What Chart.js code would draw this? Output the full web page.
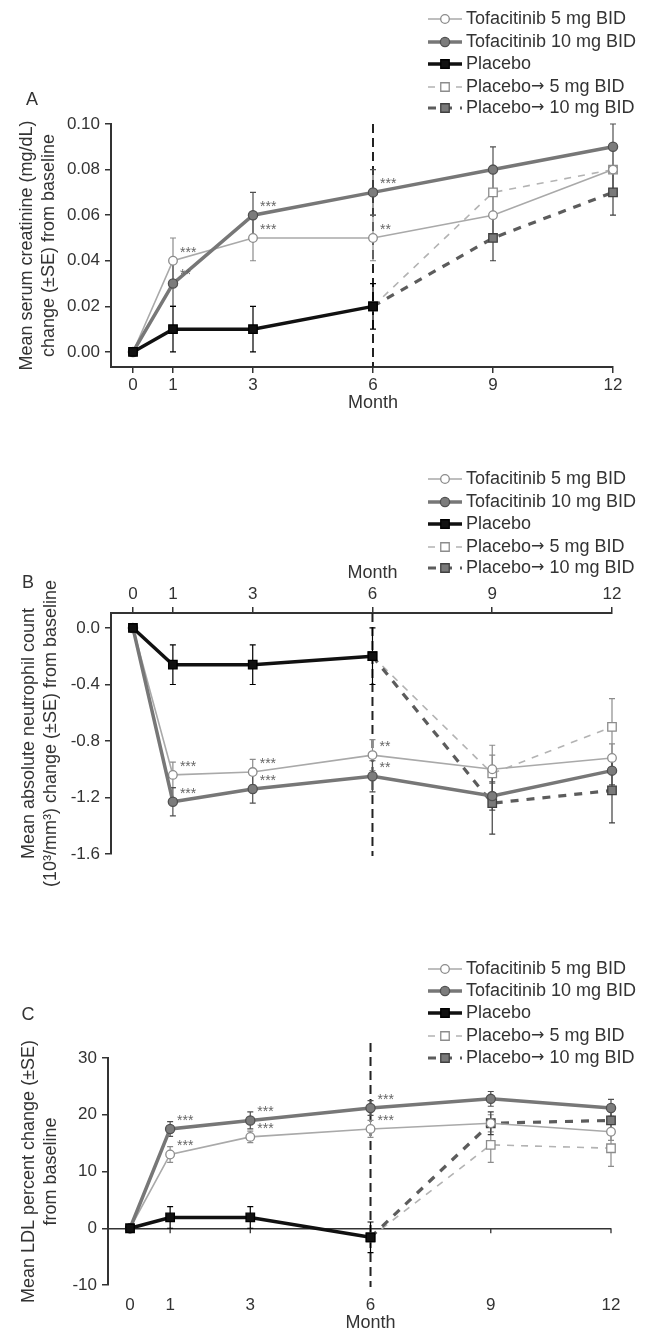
<!DOCTYPE html>
<html>
<head>
<meta charset="utf-8">
<script src="https://cdn.jsdelivr.net/npm/chart.js@4.4.1/dist/chart.umd.min.js"></script>
<style>
body{margin:0;background:#fff;}
canvas{display:block;}
</style>
</head>
<body>
<canvas id="chartA" width="658" height="440"></canvas>
<canvas id="chartB" width="658" height="465"></canvas>
<canvas id="chartC" width="658" height="426"></canvas>
<script>
// ---------- data ----------
const months = [0, 1, 3, 6, 9, 12];
const monthsPlacebo = [0, 1, 3, 6];
const monthsSwitch = [6, 9, 12];

const seriesNames = ["Tofacitinib 5 mg BID", "Tofacitinib 10 mg BID", "Placebo",
                     "Placebo\u2192 5 mg BID", "Placebo\u2192 10 mg BID"];

// A: serum creatinine (mg/dL)
const crTofa5 = [0, 0.04, 0.05, 0.05, 0.06, 0.08];
const crTofa10 = [0, 0.03, 0.06, 0.07, 0.08, 0.09];
const crPlacebo = [0, 0.01, 0.01, 0.02];
const crSwitch5 = [0.02, 0.07, 0.08];
const crSwitch10 = [0.02, 0.05, 0.07];
const crSeTofa5 = [0, 0.01, 0.01, 0.01, 0.01, 0.01];
const crSeTofa10 = [0, 0.01, 0.01, 0.01, 0.01, 0.01];
const crSePlacebo = [0, 0.01, 0.01, 0.01];
const crSeSwitch5 = [0, 0.01, 0.01];
const crSeSwitch10 = [0, 0.01, 0.01];
const crStars5 = ["", "***", "***", "**", "", ""];
const crStars10 = ["", "**", "***", "***", "", ""];
const crTicks = [0, 0.02, 0.04, 0.06, 0.08, 0.10];

// B: absolute neutrophil count (10^3/mm^3)
const ancTofa5 = [0, -1.04, -1.02, -0.90, -1.00, -0.92];
const ancTofa10 = [0, -1.23, -1.14, -1.05, -1.19, -1.01];
const ancPlacebo = [0, -0.26, -0.26, -0.20];
const ancSwitch5 = [-0.20, -1.03, -0.70];
const ancSwitch10 = [-0.20, -1.24, -1.15];
const ancSeTofa5 = [0, 0.09, 0.09, 0.11, 0.10, 0.10];
const ancSeTofa10 = [0, 0.10, 0.10, 0.11, 0.10, 0.10];
const ancSePlacebo = [0, 0.14, 0.14, 0.20];
const ancSeSwitch5 = [0, 0.20, 0.20];
const ancSeSwitch10 = [0, 0.22, 0.23];
const ancStars5 = ["", "***", "***", "**", "", ""];
const ancStars10 = ["", "***", "***", "**", "", ""];
const ancTicks = [-1.6, -1.2, -0.8, -0.4, 0];

// C: LDL percent change
const ldlTofa5 = [0, 13.0, 16.1, 17.5, 18.5, 17.0];
const ldlTofa10 = [0, 17.5, 19.0, 21.2, 22.8, 21.2];
const ldlPlacebo = [0, 1.9, 1.9, -1.6];
const ldlSwitch5 = [-1.6, 14.7, 14.1];
const ldlSwitch10 = [-1.6, 18.5, 19.0];
const ldlSeTofa5 = [0, 1.4, 1.0, 1.5, 1.5, 1.5];
const ldlSeTofa10 = [0, 1.3, 1.5, 1.3, 1.3, 1.5];
const ldlSePlacebo = [0, 1.9, 1.9, 2.7];
const ldlSeSwitch5 = [0, 3.1, 3.2];
const ldlSeSwitch10 = [0, 2.0, 2.0];
const ldlStars5 = ["", "***", "***", "***", "", ""];
const ldlStars10 = ["", "***", "***", "***", "", ""];
const ldlTicks = [-10, 0, 10, 20, 30];

// ---------- styles ----------
const FONT = "'Liberation Sans', Arial, Helvetica, sans-serif";
const ARROW_FONT = "'DejaVu Sans', sans-serif";
const INK = "#333";

const seriesStyle = [
  {color: "#a9a9a9", width: 1.6, dash: [], point: "circle", fill: "#ffffff", edge: "#8c8c8c", radius: 4.3, order: 3},
  {color: "#777777", width: 3.5, dash: [], point: "circle", fill: "#7c7c7c", edge: "#505050", radius: 4.6, order: 2},
  {color: "#111111", width: 3.5, dash: [], point: "rect", fill: "#111111", edge: "#000000", radius: 6, order: 1},
  {color: "#b3b3b3", width: 1.6, dash: [7, 7], point: "rect", fill: "#ffffff", edge: "#8c8c8c", radius: 6, order: 5},
  {color: "#5c5c5c", width: 3.2, dash: [8, 8], point: "rect", fill: "#7a7a7a", edge: "#404040", radius: 6, order: 4}
];
const xsBySeries = [months, months, monthsPlacebo, monthsSwitch, monthsSwitch];

function drawMarker(ctx, st, x, y) {
  ctx.fillStyle = st.fill;
  ctx.strokeStyle = st.edge;
  ctx.lineWidth = 1.3;
  ctx.setLineDash([]);
  ctx.beginPath();
  if (st.point === "circle") {
    ctx.arc(x, y, st.radius, 0, Math.PI * 2);
  } else {
    const s = st.radius * Math.SQRT1_2;
    ctx.rect(x - s, y - s, 2 * s, 2 * s);
  }
  ctx.fill();
  ctx.stroke();
}

// legend label; the arrow comes from a font with a full-size glyph
function drawLabel(ctx, text, x, y) {
  const parts = text.split("\u2192");
  ctx.font = "18px " + FONT;
  ctx.fillText(parts[0], x, y);
  if (parts.length < 2) return;
  x += ctx.measureText(parts[0]).width;
  ctx.font = "16px " + ARROW_FONT;
  ctx.fillText("\u2192", x, y);
  x += ctx.measureText("\u2192").width;
  ctx.font = "18px " + FONT;
  ctx.fillText(parts[1], x, y);
}

// error bars, dashed switch line, stars, legend, panel letter
const panelPlugin = {
  id: "panel",
  beforeDatasetsDraw(chart, args, opts) {
    const ctx = chart.ctx, xs = chart.scales.x, ys = chart.scales.y, area = chart.chartArea;
    ctx.save();

    if (opts.zeroTicks) {
      const y0 = ys.getPixelForValue(0);
      ctx.strokeStyle = INK;
      ctx.lineWidth = 1.3;
      ctx.beginPath();
      months.forEach(m => {
        const px = xs.getPixelForValue(m);
        ctx.moveTo(px, y0);
        ctx.lineTo(px, y0 + 5);
      });
      ctx.stroke();
    }

    const sx = xs.getPixelForValue(6);
    ctx.strokeStyle = "#222";
    ctx.lineWidth = 2;
    ctx.setLineDash([9, 5]);
    ctx.beginPath();
    ctx.moveTo(sx, area.top - opts.lineAbove);
    ctx.lineTo(sx, area.bottom + opts.lineBelow);
    ctx.stroke();
    ctx.setLineDash([]);

    chart.data.datasets.forEach(ds => {
      ctx.strokeStyle = ds.errorColor;
      ctx.lineWidth = 1.2;
      ds.data.forEach((p, i) => {
        const se = ds.errors[i];
        if (!se) return;
        const px = xs.getPixelForValue(p.x);
        const y1 = ys.getPixelForValue(p.y + se);
        const y2 = ys.getPixelForValue(p.y - se);
        ctx.beginPath();
        ctx.moveTo(px, y1); ctx.lineTo(px, y2);
        ctx.moveTo(px - 3, y1); ctx.lineTo(px + 3, y1);
        ctx.moveTo(px - 3, y2); ctx.lineTo(px + 3, y2);
        ctx.stroke();
      });
    });
    ctx.restore();
  },
  afterDraw(chart, args, opts) {
    const ctx = chart.ctx, xs = chart.scales.x, ys = chart.scales.y;
    ctx.save();

    // significance stars
    ctx.font = "14px " + FONT;
    ctx.fillStyle = "#666";
    ctx.textAlign = "left";
    ctx.textBaseline = "middle";
    chart.data.datasets.forEach(ds => {
      if (!ds.stars) return;
      ds.data.forEach((p, i) => {
        if (!ds.stars[i]) return;
        ctx.fillText(ds.stars[i], xs.getPixelForValue(p.x) + 7, ys.getPixelForValue(p.y) - 8);
      });
    });

    // legend
    chart.data.datasets.forEach((ds, i) => {
      const st = seriesStyle[i];
      const ly = opts.legendRows[i];
      ctx.strokeStyle = st.color;
      ctx.lineWidth = st.width;
      ctx.setLineDash(st.dash);
      ctx.beginPath();
      ctx.moveTo(428, ly);
      ctx.lineTo(462, ly);
      ctx.stroke();
      drawMarker(ctx, st, 445, ly);
      ctx.fillStyle = INK;
      ctx.textAlign = "left";
      ctx.textBaseline = "middle";
      drawLabel(ctx, ds.label, 466, ly);
    });

    // panel letter and Month label
    ctx.font = "18px " + FONT;
    ctx.fillStyle = INK;
    ctx.textAlign = "center";
    ctx.fillText(opts.letter, opts.letterX, opts.letterY);
    ctx.fillText("Month", xs.getPixelForValue(6), opts.monthY);
    ctx.restore();
  }
};

function makeDatasets(p) {
  return p.values.map((vals, i) => {
    const st = seriesStyle[i];
    return {
      label: seriesNames[i],
      data: vals.map((v, j) => ({x: xsBySeries[i][j], y: v})),
      errors: p.errors[i],
      stars: p.stars[i] || null,
      errorColor: st.edge,
      borderColor: st.color,
      borderWidth: st.width,
      borderDash: st.dash,
      pointStyle: st.point,
      pointRadius: st.radius,
      pointBackgroundColor: st.fill,
      pointBorderColor: st.edge,
      pointBorderWidth: 1.3,
      order: st.order,
      tension: 0,
      fill: false,
      clip: false
    };
  });
}

function makeChart(id, p) {
  return new Chart(document.getElementById(id), {
    type: "line",
    data: {datasets: makeDatasets(p)},
    options: {
      responsive: false,
      animation: false,
      devicePixelRatio: 1,
      layout: {padding: p.pad},
      plugins: {
        legend: {display: false},
        tooltip: {enabled: false},
        panel: p.panel
      },
      scales: {
        x: {
          type: "linear",
          position: p.xPos,
          min: -0.55,
          max: 12,
          afterBuildTicks: s => { s.ticks = months.map(v => ({value: v})); },
          afterFit: s => { s.height = p.xHeight; },
          ticks: {font: {family: FONT, size: 17}, color: INK, padding: p.xPad,
                  maxRotation: 0, autoSkip: false, callback: v => String(v)},
          grid: {drawOnChartArea: false, drawTicks: true, tickLength: 6,
                 tickColor: p.xBorder ? INK : "rgba(0,0,0,0)", lineWidth: 1.5},
          border: {display: p.xBorder, color: INK, width: 2}
        },
        y: {
          type: "linear",
          min: p.yMin,
          max: p.yMax,
          afterBuildTicks: s => { s.ticks = p.yTicks.map(v => ({value: v})); },
          afterFit: s => { s.width = p.yWidth; },
          ticks: {font: {family: FONT, size: 17}, color: INK, padding: 5,
                  callback: v => v.toFixed(p.yDec)},
          grid: {drawOnChartArea: !!p.zeroLine, drawTicks: true, tickLength: 6, tickColor: INK,
                 lineWidth: 1.5,
                 color: c => (c.tick && c.tick.value === 0) ? INK : "rgba(0,0,0,0)"},
          border: {display: true, color: INK, width: 2},
          title: {display: true, text: p.yTitle, color: INK,
                  font: {family: FONT, size: 18, lineHeight: 1.22},
                  padding: {top: p.titlePad, bottom: 0}}
        }
      }
    },
    plugins: [panelPlugin]
  });
}

makeChart("chartA", {
  values: [crTofa5, crTofa10, crPlacebo, crSwitch5, crSwitch10],
  errors: [crSeTofa5, crSeTofa10, crSePlacebo, crSeSwitch5, crSeSwitch10],
  stars: [crStars5, crStars10],
  pad: {left: 0, top: 124, right: 45, bottom: 0},
  xPos: "bottom", xHeight: 73, xPad: 2, xBorder: true,
  yMin: -0.0066, yMax: 0.10, yTicks: crTicks, yDec: 2, yWidth: 111,
  yTitle: ["Mean serum creatinine (mg/dL)", "change (\u00b1SE) from baseline"], titlePad: 16,
  panel: {letter: "A", letterX: 32, letterY: 100, monthY: 403,
          legendRows: [19, 42, 64, 87, 108], lineAbove: 0, lineBelow: 0, zeroTicks: false}
});

makeChart("chartB", {
  values: [ancTofa5, ancTofa10, ancPlacebo, ancSwitch5, ancSwitch10],
  errors: [ancSeTofa5, ancSeTofa10, ancSePlacebo, ancSeSwitch5, ancSeSwitch10],
  stars: [ancStars5, ancStars10],
  pad: {left: 0, top: 0, right: 46, bottom: 51},
  xPos: "top", xHeight: 173, xPad: 2, xBorder: true,
  yMin: -1.6, yMax: 0.106, yTicks: ancTicks, yDec: 1, yWidth: 111,
  yTitle: ["Mean absolute neutrophil count", "(10\u00b3/mm\u00b3) change (\u00b1SE) from baseline"], titlePad: 18,
  panel: {letter: "B", letterX: 28, letterY: 143, monthY: 133,
          legendRows: [39, 62, 84, 107, 128], lineAbove: 0, lineBelow: 2, zeroTicks: false}
});

makeChart("chartC", {
  values: [ldlTofa5, ldlTofa10, ldlPlacebo, ldlSwitch5, ldlSwitch10],
  errors: [ldlSeTofa5, ldlSeTofa10, ldlSePlacebo, ldlSeSwitch5, ldlSeSwitch10],
  stars: [ldlStars5, ldlStars10],
  pad: {left: 0, top: 153, right: 47, bottom: 0},
  xPos: "bottom", xHeight: 46, xPad: 4, xBorder: false,
  yMin: -10, yMax: 30, yTicks: ldlTicks, yDec: 0, yWidth: 108, zeroLine: true,
  yTitle: ["Mean LDL percent change (\u00b1SE)", "from baseline"], titlePad: 18,
  panel: {letter: "C", letterX: 28, letterY: 110, monthY: 418,
          legendRows: [64, 86, 108, 131, 153], lineAbove: 15, lineBelow: 2, zeroTicks: true}
});
</script>
</body>
</html>
